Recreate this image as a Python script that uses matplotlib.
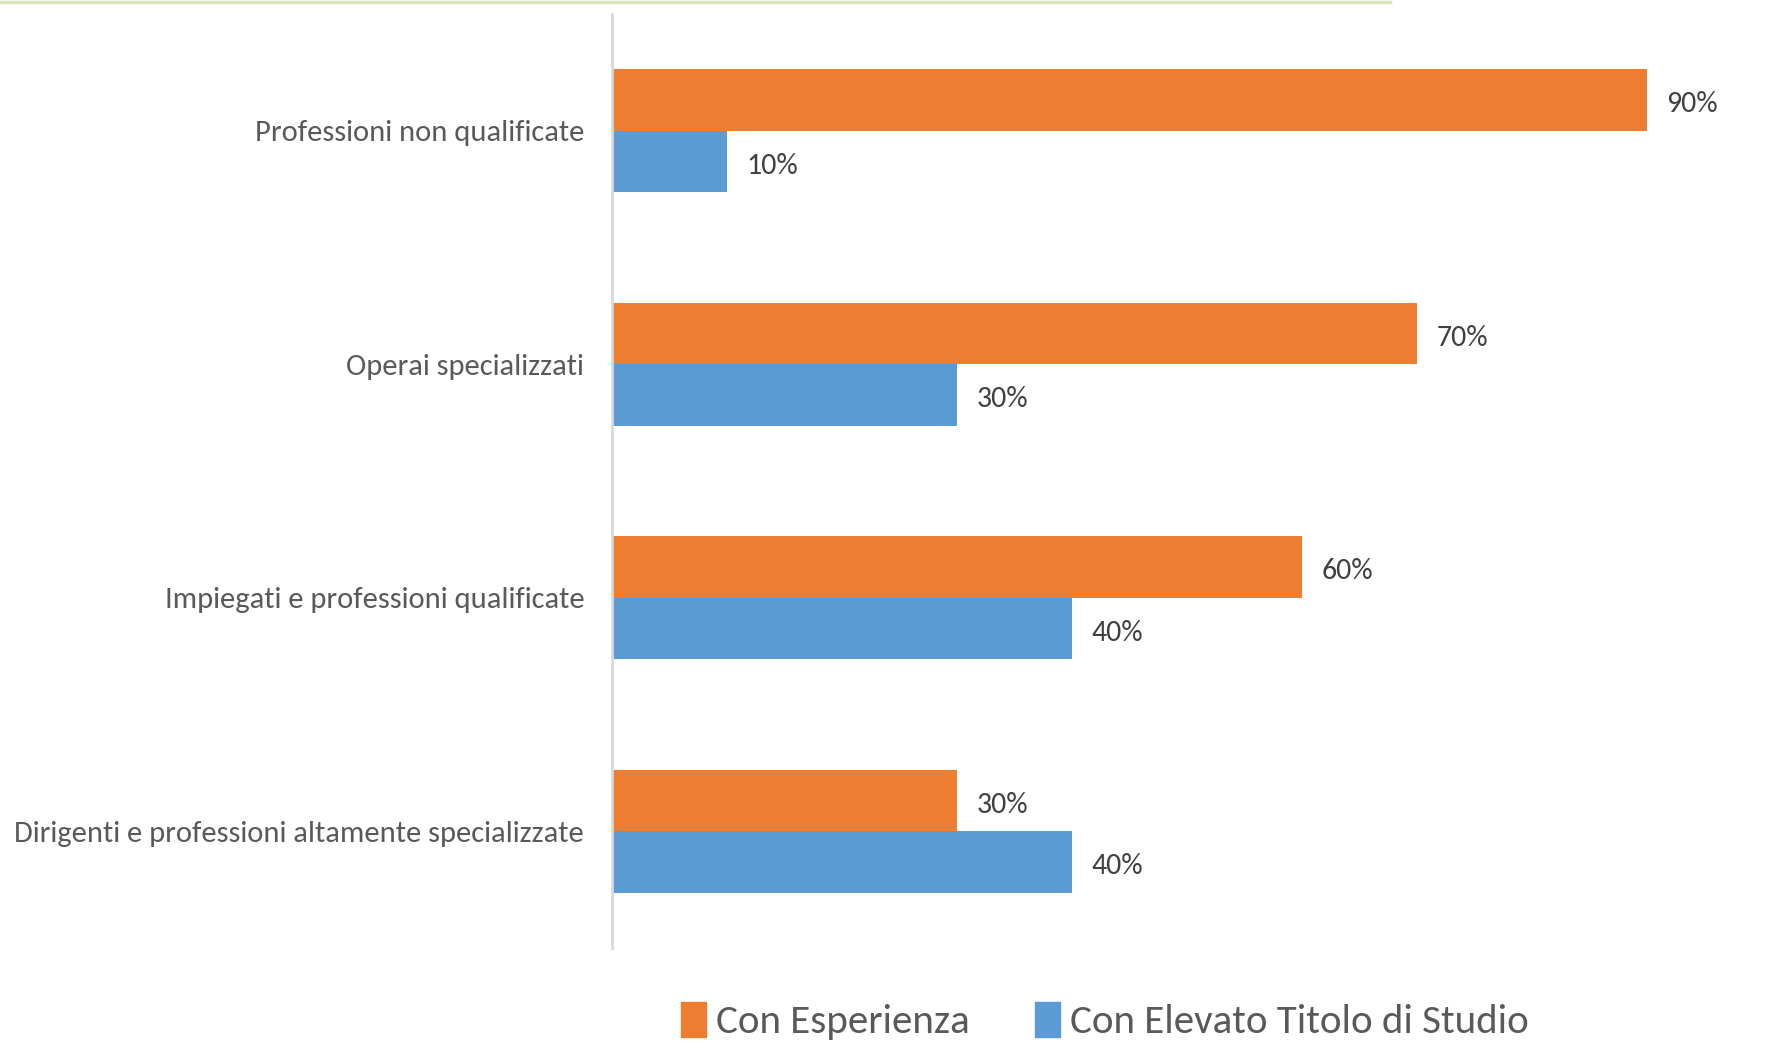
import matplotlib
matplotlib.use("Agg")
import matplotlib.pyplot as plt
from matplotlib.lines import Line2D
from matplotlib.patches import Patch
from matplotlib import font_manager as fm

categories = ["Professioni non qualificate", "Operai specializzati",
              "Impiegati e professioni qualificate",
              "Dirigenti e professioni altamente specializzate"]
esperienza = [90, 70, 60, 30]
titolo = [10, 30, 40, 40]
series_names = ["Con Esperienza", "Con Elevato Titolo di Studio"]

names = {f.name for f in fm.fontManager.ttflist}
fam = [n for n in ["Carlito", "Liberation Sans"] if n in names] + ["DejaVu Sans"]
plt.rcParams['font.family'] = fam

ORANGE = "#ED7D31"
BLUE = "#5B9BD5"
TXT = "#595959"

fig = plt.figure(figsize=(17.77, 10.43), dpi=100)
ax = fig.add_axes([612/1777, 1-948/1043, 1150/1777, 934/1043])

h = 0.264
y = list(range(len(categories)))
b1 = ax.barh([i - h/2 for i in y], esperienza, height=h, color=ORANGE)
b2 = ax.barh([i + h/2 for i in y], titolo, height=h, color=BLUE)
for bars in (b1, b2):
    anns = ax.bar_label(bars, labels=[f"{int(v)}%" for v in bars.datavalues],
                        padding=14, fontsize=21.5, color="#404040")
    for a in anns:
        a.xyann = (14, -3.0)

ax.set_xlim(0, 100)
ax.set_ylim(3.5, -0.5)
ax.set_yticks(y)
ax.set_yticklabels(categories, fontsize=22, color=TXT)
ax.tick_params(axis='y', length=0, pad=20)
ax.set_xticks([])
for s in ("top", "right", "bottom"):
    ax.spines[s].set_visible(False)
ax.spines["left"].set_color("#D9D9D9")
ax.spines["left"].set_linewidth(2)

fig.add_artist(Line2D([0, 1390/1777], [1-1.5/1043, 1-1.5/1043], color="#D7E4BD", lw=2.5))

handles = [Patch(color=ORANGE), Patch(color=BLUE)]
fig.legend(handles, series_names, loc="center", bbox_to_anchor=(1105/1777, 1-1021/1043),
           ncol=2, frameon=False, fontsize=29.5, labelcolor=TXT,
           handlelength=0.6, handleheight=0.95, handletextpad=0.25, columnspacing=1.6)

fig.savefig("out.png", dpi=100)
